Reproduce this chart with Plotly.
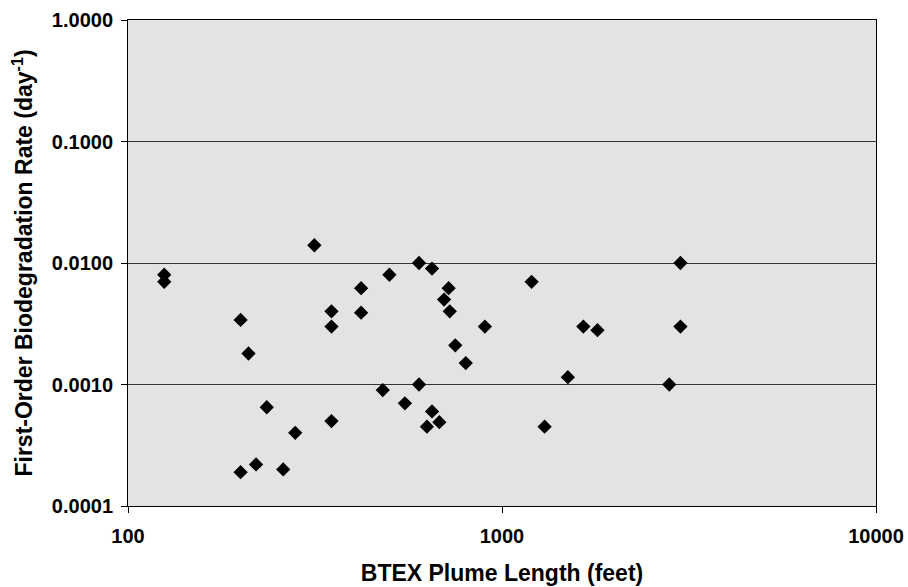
import plotly.graph_objects as go

# BTEX plume length (feet) and first-order biodegradation rate (1/day)
plume_length_ft = [
    125, 125, 200, 210, 235, 200, 220, 260, 280, 315,
    350, 350, 350, 420, 420, 480, 500, 550, 600, 600,
    630, 650, 650, 680, 700, 720, 725, 750, 800, 900,
    1200, 1300, 1500, 1650, 1800, 2800, 3000, 3000,
]
decay_rate_per_day = [
    0.0080, 0.0070, 0.0034, 0.0018, 0.00065, 0.00019, 0.00022, 0.00020, 0.00040, 0.0140,
    0.0040, 0.0030, 0.00050, 0.0062, 0.0039, 0.00090, 0.0080, 0.00070, 0.0100, 0.0010,
    0.00045, 0.0090, 0.00060, 0.00049, 0.0050, 0.0062, 0.0040, 0.0021, 0.0015, 0.0030,
    0.0070, 0.00045, 0.00115, 0.0030, 0.0028, 0.0010, 0.0100, 0.0030,
]

x_ticks = [100, 1000, 10000]
x_tick_text = ["100", "1000", "10000"]
y_ticks = [0.0001, 0.001, 0.01, 0.1, 1]
y_tick_text = ["0.0001", "0.0010", "0.0100", "0.1000", "1.0000"]

font_family = "Liberation Sans, Arial, sans-serif"


def bold(labels):
    return ["<b>%s</b>" % s for s in labels]


fig = go.Figure(
    go.Scatter(
        x=plume_length_ft,
        y=decay_rate_per_day,
        mode="markers",
        marker=dict(symbol="diamond", size=11, color="black", line=dict(width=0)),
        showlegend=False,
    )
)

fig.update_layout(
    width=908,
    height=587,
    margin=dict(l=128, r=32, t=20, b=81),
    paper_bgcolor="white",
    plot_bgcolor="#e3e3e3",
    font=dict(family=font_family, color="black"),
)

fig.update_xaxes(
    type="log",
    range=[2, 4],
    tickvals=x_ticks,
    ticktext=bold(x_tick_text),
    tickfont=dict(size=20, family=font_family),
    ticks="outside",
    ticklen=6,
    tickcolor="black",
    ticklabelstandoff=6,
    showgrid=False,
    zeroline=False,
    showline=True,
    linecolor="black",
    linewidth=1,
    mirror=True,
    automargin=False,
    title=dict(
        text="<b>BTEX Plume Length (feet)</b>",
        font=dict(size=23, family=font_family),
        standoff=18,
    ),
)

fig.update_yaxes(
    type="log",
    range=[-4, 0],
    tickvals=y_ticks,
    ticktext=bold(y_tick_text),
    tickfont=dict(size=20, family=font_family),
    ticks="outside",
    ticklen=6,
    tickcolor="black",
    ticklabelstandoff=4,
    showgrid=True,
    gridcolor="#333333",
    gridwidth=1,
    zeroline=False,
    showline=True,
    linecolor="black",
    linewidth=1,
    mirror=True,
    automargin=False,
    title=dict(
        text="<b>First-Order Biodegradation Rate (day<sup>-1</sup>)</b>",
        font=dict(size=23, family=font_family),
        standoff=12,
    ),
)

fig.write_html("out.html")
